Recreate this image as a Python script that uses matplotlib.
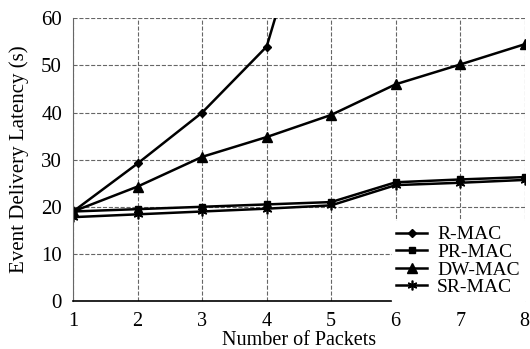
import matplotlib.pyplot as plt

plt.rcParams['font.family'] = ['Liberation Serif', 'DejaVu Serif']

packets = [1, 2, 3, 4, 5, 6, 7, 8]
r_mac = [19.0, 29.2, 40.0, 54.0, 100.0]  # last point runs off the top of the chart
pr_mac = [19.0, 19.5, 20.0, 20.5, 21.0, 25.2, 25.8, 26.3]
dw_mac = [19.0, 24.3, 30.6, 34.8, 39.5, 46.0, 50.2, 54.5]
sr_mac = [17.8, 18.4, 19.0, 19.6, 20.3, 24.6, 25.1, 25.7]

fig = plt.figure(figsize=(5.3, 3.49), dpi=100)
ax = fig.add_axes([0.138, 0.1375, 0.852, 0.81])

ax.plot(packets[:len(r_mac)], r_mac, 'k-', marker='D', ms=4.5, lw=1.8, label='R-MAC')
ax.plot(packets, pr_mac, 'k-', marker='s', ms=5, lw=1.8, label='PR-MAC')
ax.plot(packets, dw_mac, 'k-', marker='^', ms=6.5, lw=1.8, label='DW-MAC')
ax.plot(packets, sr_mac, 'k-', marker=(6, 2, 0), ms=7, mew=1.2, lw=1.8, label='SR-MAC')

ax.set_xlim(1, 8)
ax.set_ylim(0, 60)
ax.set_xticks(packets)
ax.set_yticks(range(0, 61, 10))
ax.grid(True, ls='--', color='#666666', lw=0.8)
ax.spines['top'].set_visible(False)
ax.spines['right'].set_visible(False)
ax.spines['left'].set_color('#666666')
ax.spines['bottom'].set_linewidth(1.2)
ax.tick_params(axis='y', length=0, labelsize=15, pad=8)
ax.tick_params(axis='x', length=0, labelsize=14.5, pad=8)
ax.set_xlabel('Number of Packets', fontsize=14.5, labelpad=0)
ax.set_ylabel('Event Delivery Latency (s)', fontsize=15, labelpad=9)

leg = ax.legend(loc='lower right', fontsize=14, frameon=True, fancybox=False,
                borderaxespad=0, handlelength=1.6, handletextpad=0.5,
                labelspacing=0.0, borderpad=0.25, framealpha=1)
leg.get_frame().set_edgecolor('white')

plt.savefig('out.png', dpi=100)
